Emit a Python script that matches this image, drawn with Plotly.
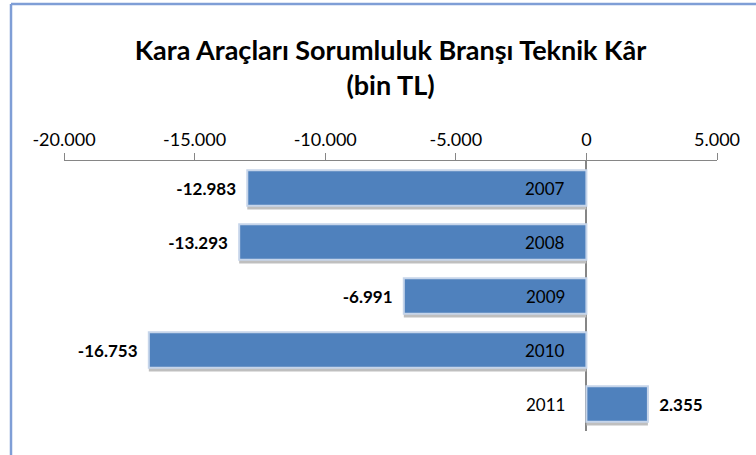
import plotly.graph_objects as go

years = ["2007", "2008", "2009", "2010", "2011"]
values = [-12983, -13293, -6991, -16753, 2355]
value_labels = ["-12.983", "-13.293", "-6.991", "-16.753", "2.355"]
tick_vals = [-20000, -15000, -10000, -5000, 0, 5000]
tick_text = ["-20.000", "-15.000", "-10.000", "-5.000", "0", "5.000"]

W, H = 756, 455
ML, MR, MT, MB = 64, 39, 161, 24
pw, ph = W - ML - MR, H - MT - MB

NB = "\u00a0"
labels_padded = [(t + NB * 2) if v < 0 else (NB * 2 + t) for t, v in zip(value_labels, values)]

fig = go.Figure()
# shadow
fig.add_trace(go.Bar(
    y=years, x=values, orientation="h",
    width=0.66, offset=-0.33 + 0.07,
    marker=dict(color="#BFBFBF", line=dict(width=0)),
    hoverinfo="skip", showlegend=False,
))
fig.add_trace(go.Bar(
    y=years, x=values, orientation="h",
    width=0.66, offset=-0.33,
    marker=dict(color="#4F81BD", line=dict(color="#C6D5EA", width=2)),
    text=labels_padded, textposition="outside", constraintext="none",
    textfont=dict(family="Lato", size=17, color="#000000", weight="bold"),
    cliponaxis=False, showlegend=False,
))

# category labels placed next to the zero axis (y given as category index)
for i, yr in enumerate(years):
    fig.add_annotation(x=0, y=i, text=yr, showarrow=False,
                       xanchor="right", xshift=-19,
                       font=dict(family="Lato", size=17, color="#000000"))

top_y = (H - MB - 4) / ph
left_x = (11 - ML) / pw

fig.update_layout(
    width=W, height=H,
    margin=dict(l=ML, r=MR, t=MT, b=MB, autoexpand=False),
    paper_bgcolor="white", plot_bgcolor="white",
    barmode="overlay",
    title=dict(text="<b>Kara Araçları Sorumluluk Branşı Teknik Kâr<br>(bin TL)</b>",
               x=0.5, xref="paper", xanchor="center",
               y=1 - 60 / H, yref="container", yanchor="middle",
               font=dict(family="Lato", size=27, color="#000000")),
    xaxis=dict(side="top", range=[-20000, 5000], tickvals=tick_vals, ticktext=tick_text,
               showgrid=False, showline=True, linecolor="#868686", linewidth=1,
               ticks="outside", ticklen=7, tickcolor="#868686",
               zeroline=True, zerolinecolor="#868686", zerolinewidth=1.5,
               automargin=False,
               tickfont=dict(family="Lato", size=18, color="#000000")),
    yaxis=dict(type="category", categoryorder="array", categoryarray=years,
               autorange="reversed", showticklabels=False, showgrid=False,
               showline=False, zeroline=False, ticks="", automargin=False),
    shapes=[
        dict(type="line", xref="paper", yref="paper",
             x0=left_x, x1=left_x, y0=-MB / ph, y1=top_y,
             line=dict(color="#7F9ED6", width=2.5)),
        dict(type="line", xref="paper", yref="paper",
             x0=left_x, x1=(W - ML) / pw, y0=top_y, y1=top_y,
             line=dict(color="#7F9ED6", width=2.5)),
    ],
)

fig.write_html("out.html", config={"displayModeBar": False},
               post_script="document.body.style.margin='0';")
